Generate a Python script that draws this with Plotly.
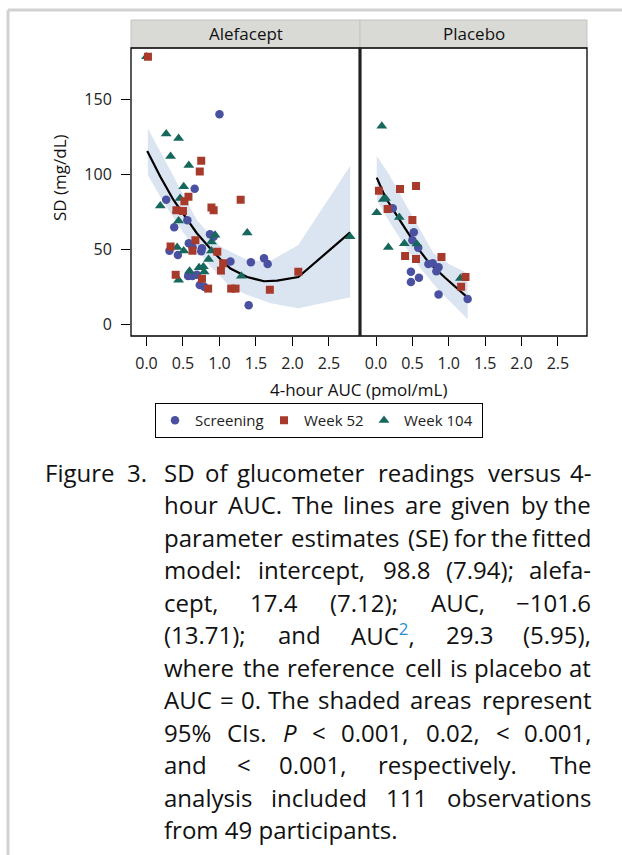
import re
import plotly.graph_objects as go

W, H = 622, 855
FONT = "Open Sans"

# ---------------- data ----------------
# Alefacept panel
ale_scr_x = [1.00, 0.66, 0.27, 0.56, 0.38, 0.87, 0.92, 0.58, 0.63, 0.76, 0.75, 0.315, 0.43,
             1.15, 1.43, 1.61, 1.66, 0.57, 0.63, 0.69, 0.73, 0.79, 1.40]
ale_scr_y = [140, 90.4, 83, 69.3, 64.7, 60, 58.4, 54, 51.3, 50.7, 48.7, 49, 46.2,
             41.8, 41.3, 44, 40.2, 32.2, 32.2, 33, 26.2, 25.1, 12.7]
ale_w52_x = [0.02, 0.75, 0.73, 0.575, 0.52, 0.41, 0.50, 0.89, 0.92, 1.29, 0.33, 0.67, 0.63,
             0.97, 1.05, 1.02, 0.40, 0.76, 0.845, 1.16, 1.22, 1.69, 2.08]
ale_w52_y = [178.4, 109, 101.8, 85, 82, 76, 75.5, 77.8, 76, 83, 51.8, 56, 49,
             48.4, 40.7, 35.8, 33, 30.4, 23.8, 23.8, 23.8, 23, 35]
ale_w104_x = [0.0, 0.27, 0.44, 0.33, 0.58, 0.51, 0.19, 0.46, 0.42, 0.44, 0.94, 0.89, 1.38,
              0.42, 0.51, 0.89, 0.85, 0.72, 0.78, 0.79, 0.59, 0.44, 1.30, 2.79]
ale_w104_y = [178.4, 127, 124, 112, 106, 91.8, 79, 84, 75.8, 69, 59.5, 55, 61,
              51.3, 49, 49, 43.3, 37.8, 38.4, 35, 35.5, 29.5, 32.2, 58.4]
ale_fit_x = [0.01, 0.19, 0.37, 0.51, 0.69, 0.88, 1.01, 1.15, 1.38, 1.61, 1.79, 2.08, 2.79]
ale_fit_y = [115.6, 98.4, 82.9, 73.5, 60.7, 50.2, 43.5, 37.2, 31.5, 28.7, 29.1, 31.5, 61.3]
ale_hi_x = [0.018, 0.24, 0.47, 0.69, 1.01, 1.38, 1.68, 2.08, 2.79]
ale_hi_y = [130.7, 110.7, 89.6, 69.6, 51.8, 42.9, 41.8, 52.9, 105.6]
ale_lo_x = [0.018, 0.24, 0.51, 0.88, 1.15, 1.38, 1.70, 2.08, 2.79]
ale_lo_y = [99.6, 80.7, 60.7, 38.4, 25.1, 19.6, 14.0, 10.7, 18.0]

# Placebo panel
pla_scr_x = [0.23, 0.52, 0.50, 0.58, 0.72, 0.78, 0.86, 0.83, 0.48, 0.59, 0.48, 0.86, 1.26]
pla_scr_y = [77.3, 61.3, 56, 51.1, 40.2, 40.7, 38, 35.3, 35.1, 31.1, 28.2, 19.8, 16.9]
pla_w52_x = [0.04, 0.33, 0.55, 0.16, 0.50, 0.40, 0.55, 0.90, 1.23, 1.17]
pla_w52_y = [89.1, 90.2, 92.2, 76.9, 69.6, 45.6, 43.6, 44.9, 31.6, 25.1]
pla_w104_x = [0.08, 0.13, 0.10, 0.01, 0.32, 0.17, 0.39, 0.56, 1.16]
pla_w104_y = [132.2, 84, 83.3, 74.4, 71.3, 51.3, 53.8, 53.6, 30.7]
pla_fit_x = [0.01, 0.13, 0.32, 0.58, 0.72, 0.95, 1.26]
pla_fit_y = [97.8, 84.5, 70.0, 50.5, 41.5, 31.0, 17.8]
pla_hi_x = [0.01, 0.17, 0.40, 0.63, 0.79, 1.00, 1.26]
pla_hi_y = [112.2, 100.7, 80.7, 60.7, 47.3, 40.2, 34.0]
pla_lo_x = [0.01, 0.17, 0.40, 0.63, 0.86, 1.09, 1.26]
pla_lo_y = [82.9, 69.6, 51.8, 36.2, 22.9, 11.8, 3.3]

series_names = ["Screening", "Week 52", "Week 104"]
panel_titles = ["Alefacept", "Placebo"]
x_ticks = [0.0, 0.5, 1.0, 1.5, 2.0, 2.5]
y_ticks = [0, 50, 100, 150]

caption_lines = [
    "SD of glucometer readings versus 4-",
    "hour AUC. The lines are given by the",
    "parameter estimates (SE) for the fitted",
    "model: intercept, 98.8 (7.94); alefa-",
    "cept, 17.4 (7.12); AUC, \u2212101.6",
    "(13.71); and AUC<sup><span style='color:#2b8fcf'>2</span></sup>, 29.3 (5.95),",
    "where the reference cell is placebo at",
    "AUC = 0. The shaded areas represent",
    "95% CIs. <i>P</i> < 0.001, 0.02, < 0.001,",
    "and < 0.001, respectively. The",
    "analysis included 111 observations",
    "from 49 participants.",
]

# ---------------- styles ----------------
C_SCR = "#4a51a1"
C_W52 = "#a83a2b"
C_W104 = "#17685c"
C_BAND = "#dbe4f1"
LEGEND_W = {"Screening": 64, "Week 52": 55, "Week 104": 73}

fig = go.Figure()


def add_panel(xa, ya, scr, w52, w104, fit, hi, lo, legend):
    bx = list(hi[0]) + list(lo[0])[::-1]
    by = list(hi[1]) + list(lo[1])[::-1]
    fig.add_trace(go.Scatter(x=bx, y=by, fill="toself", fillcolor=C_BAND,
                             line=dict(width=0, color=C_BAND), mode="lines",
                             hoverinfo="skip", showlegend=False, xaxis=xa, yaxis=ya))
    fig.add_trace(go.Scatter(x=fit[0], y=fit[1], mode="lines",
                             line=dict(color="black", width=2.2),
                             showlegend=False, xaxis=xa, yaxis=ya))
    specs = [(scr, "circle", C_SCR, 8.5, series_names[0], 1),
             (w104, "triangle-up", C_W104, 9.5, series_names[2], 3),
             (w52, "square", C_W52, 8, series_names[1], 2)]
    for d, sym, col, sz, nm, rk in specs:
        fig.add_trace(go.Scatter(x=d[0], y=d[1], mode="markers", name=nm,
                                 marker=dict(symbol=sym, color=col, size=sz, line=dict(width=0)),
                                 legendgroup=nm, legendrank=rk, showlegend=legend,
                                 legendwidth=LEGEND_W[nm], xaxis=xa, yaxis=ya))


add_panel("x", "y", (ale_scr_x, ale_scr_y), (ale_w52_x, ale_w52_y), (ale_w104_x, ale_w104_y),
          (ale_fit_x, ale_fit_y), (ale_hi_x, ale_hi_y), (ale_lo_x, ale_lo_y), True)
add_panel("x2", "y2", (pla_scr_x, pla_scr_y), (pla_w52_x, pla_w52_y), (pla_w104_x, pla_w104_y),
          (pla_fit_x, pla_fit_y), (pla_hi_x, pla_hi_y), (pla_lo_x, pla_lo_y), False)

# ---------------- layout ----------------
L1, R1 = 131, 359.5
L2, R2 = 360.5, 587
TOP, BOT = 48, 336
STRIP_TOP = 20
ydom = [1 - BOT / H, 1 - TOP / H]
yrange = [-7.8, 184.2]

axis_common = dict(showgrid=False, zeroline=False, showline=False,
                   ticks="outside", ticklen=9, tickwidth=1.2, tickcolor="black",
                   tickfont=dict(family=FONT, size=16, color="#222"))

fig.update_layout(
    width=W, height=H, margin=dict(l=0, r=0, t=0, b=0),
    paper_bgcolor="white", plot_bgcolor="white",
    xaxis=dict(domain=[L1 / W, R1 / W], range=[-0.212, 2.918], tickvals=x_ticks,
               tickformat=".1f", anchor="y", ticklabelstandoff=4, **axis_common),
    xaxis2=dict(domain=[L2 / W, R2 / W], range=[-0.213, 2.90], tickvals=x_ticks,
                tickformat=".1f", anchor="y2", ticklabelstandoff=4, **axis_common),
    yaxis=dict(domain=ydom, range=yrange, tickvals=y_ticks, anchor="x",
               ticklabelstandoff=6, **axis_common),
    yaxis2=dict(domain=ydom, range=yrange, anchor="x2", showticklabels=False,
                showgrid=False, zeroline=False, showline=False, ticks=""),
    legend=dict(orientation="h", x=155 / W, xanchor="left", y=1 - 403 / H, yanchor="top",
                bordercolor="black", borderwidth=1, bgcolor="white",
                font=dict(family=FONT, size=15, color="#222"), itemwidth=30,
                tracegroupgap=0),
    font=dict(family=FONT),
)

shapes = []
# outer page frame
shapes.append(dict(type="line", xref="paper", yref="paper", x0=8 / W, x1=1.0, y0=1 - 10 / H, y1=1 - 10 / H,
                   line=dict(color="#d2d2d2", width=3)))
shapes.append(dict(type="line", xref="paper", yref="paper", x0=8 / W, x1=8 / W, y0=0, y1=1 - 10 / H,
                   line=dict(color="#d2d2d2", width=3)))
# strips
for (a, b) in [(L1, 360), (360, R2)]:
    shapes.append(dict(type="rect", xref="paper", yref="paper", x0=a / W, x1=b / W,
                       y0=1 - TOP / H, y1=1 - STRIP_TOP / H, fillcolor="#d9dad5",
                       line=dict(color="#c4c4c4", width=1), layer="below"))
# panel borders
for (a, b) in [(L1, R1), (L2, R2)]:
    shapes.append(dict(type="rect", xref="paper", yref="paper", x0=a / W, x1=b / W,
                       y0=1 - BOT / H, y1=1 - TOP / H, line=dict(color="black", width=1.3)))
shapes.append(dict(type="line", xref="paper", yref="paper", x0=360 / W, x1=360 / W,
                   y0=1 - BOT / H, y1=1 - TOP / H, line=dict(color="#222", width=3)))
fig.update_layout(shapes=shapes)

ann = []
for t, (a, b) in zip(panel_titles, [(L1, 360), (360, R2)]):
    ann.append(dict(text=t, xref="paper", yref="paper", x=(a + b) / 2 / W, y=1 - 34 / H,
                    showarrow=False, xanchor="center", yanchor="middle",
                    font=dict(family=FONT, size=17, color="#111")))
ann.append(dict(text="4-hour AUC (pmol/mL)", xref="paper", yref="paper", x=358 / W, y=1 - 389 / H,
                showarrow=False, xanchor="center", yanchor="middle",
                font=dict(family=FONT, size=17, color="#111")))
ann.append(dict(text="SD (mg/dL)", xref="paper", yref="paper", x=60 / W, y=1 - 177 / H,
                showarrow=False, xanchor="center", yanchor="middle", textangle=-90,
                font=dict(family=FONT, size=17, color="#111")))

# ---------------- caption (justified: words spread over the text column) ----------------
CHAR_EM = {
    " ": 0.26, "a": 0.556, "b": 0.613, "c": 0.48, "d": 0.613, "e": 0.561, "f": 0.336, "g": 0.546,
    "h": 0.614, "i": 0.253, "j": 0.253, "k": 0.529, "l": 0.253, "m": 0.93, "n": 0.614, "o": 0.601,
    "p": 0.613, "q": 0.613, "r": 0.408, "s": 0.479, "t": 0.358, "u": 0.614, "v": 0.5, "w": 0.774,
    "x": 0.521, "y": 0.5, "z": 0.468, "A": 0.633, "C": 0.631, "D": 0.729, "E": 0.556, "I": 0.279,
    "P": 0.603, "S": 0.549, "T": 0.553, "U": 0.726, ".": 0.268, ",": 0.258, ";": 0.268, ":": 0.268,
    "(": 0.296, ")": 0.296, "-": 0.322, "%": 0.823, "<": 0.572, "=": 0.572, "\u2212": 0.572,
}
CAP_SIZE = 24
COL_L, COL_R = 162, 593
WIDTH_FUDGE = 1.045


def word_width(w):
    plain = re.sub(r"<sup>.*?</sup>", "\u00b2", w)
    plain = re.sub(r"<[^>]+>", "", plain)
    tot = 0.0
    for ch in plain:
        if ch == "\u00b2":
            tot += 0.40
        else:
            tot += CHAR_EM.get(ch, 0.572)
    return tot * CAP_SIZE * WIDTH_FUDGE


for i, line in enumerate(caption_lines):
    yc = 472 + 32.5 * i
    y = 1 - yc / H
    if i == len(caption_lines) - 1:
        ann.append(dict(text=line, xref="paper", yref="paper", x=COL_L / W, y=y, showarrow=False,
                        xanchor="left", yanchor="middle",
                        font=dict(family=FONT, size=CAP_SIZE, color="#111")))
        continue
    safe = re.sub(r"<[^>]+>", lambda m: m.group(0).replace(" ", "\x00"), line)
    words = [w.replace("\x00", " ") for w in safe.split(" ")]
    widths = [word_width(w) for w in words]
    gap = (COL_R - COL_L - sum(widths)) / (len(words) - 1)
    x = COL_L
    for j, (w, wd) in enumerate(zip(words, widths)):
        txt = "&lt;" if w == "<" else w
        last = j == len(words) - 1
        ann.append(dict(text=txt, xref="paper", yref="paper", x=(COL_R if last else x) / W, y=y,
                        showarrow=False, xanchor="right" if last else "left", yanchor="middle",
                        font=dict(family=FONT, size=CAP_SIZE, color="#111")))
        x += wd + gap

ann.append(dict(text="Figure&nbsp;&nbsp;3.", xref="paper", yref="paper", x=43 / W, y=1 - 472 / H,
                showarrow=False, xanchor="left", yanchor="middle",
                font=dict(family=FONT, size=CAP_SIZE, color="#111")))
fig.update_layout(annotations=ann)

fig.write_html("out.html")
